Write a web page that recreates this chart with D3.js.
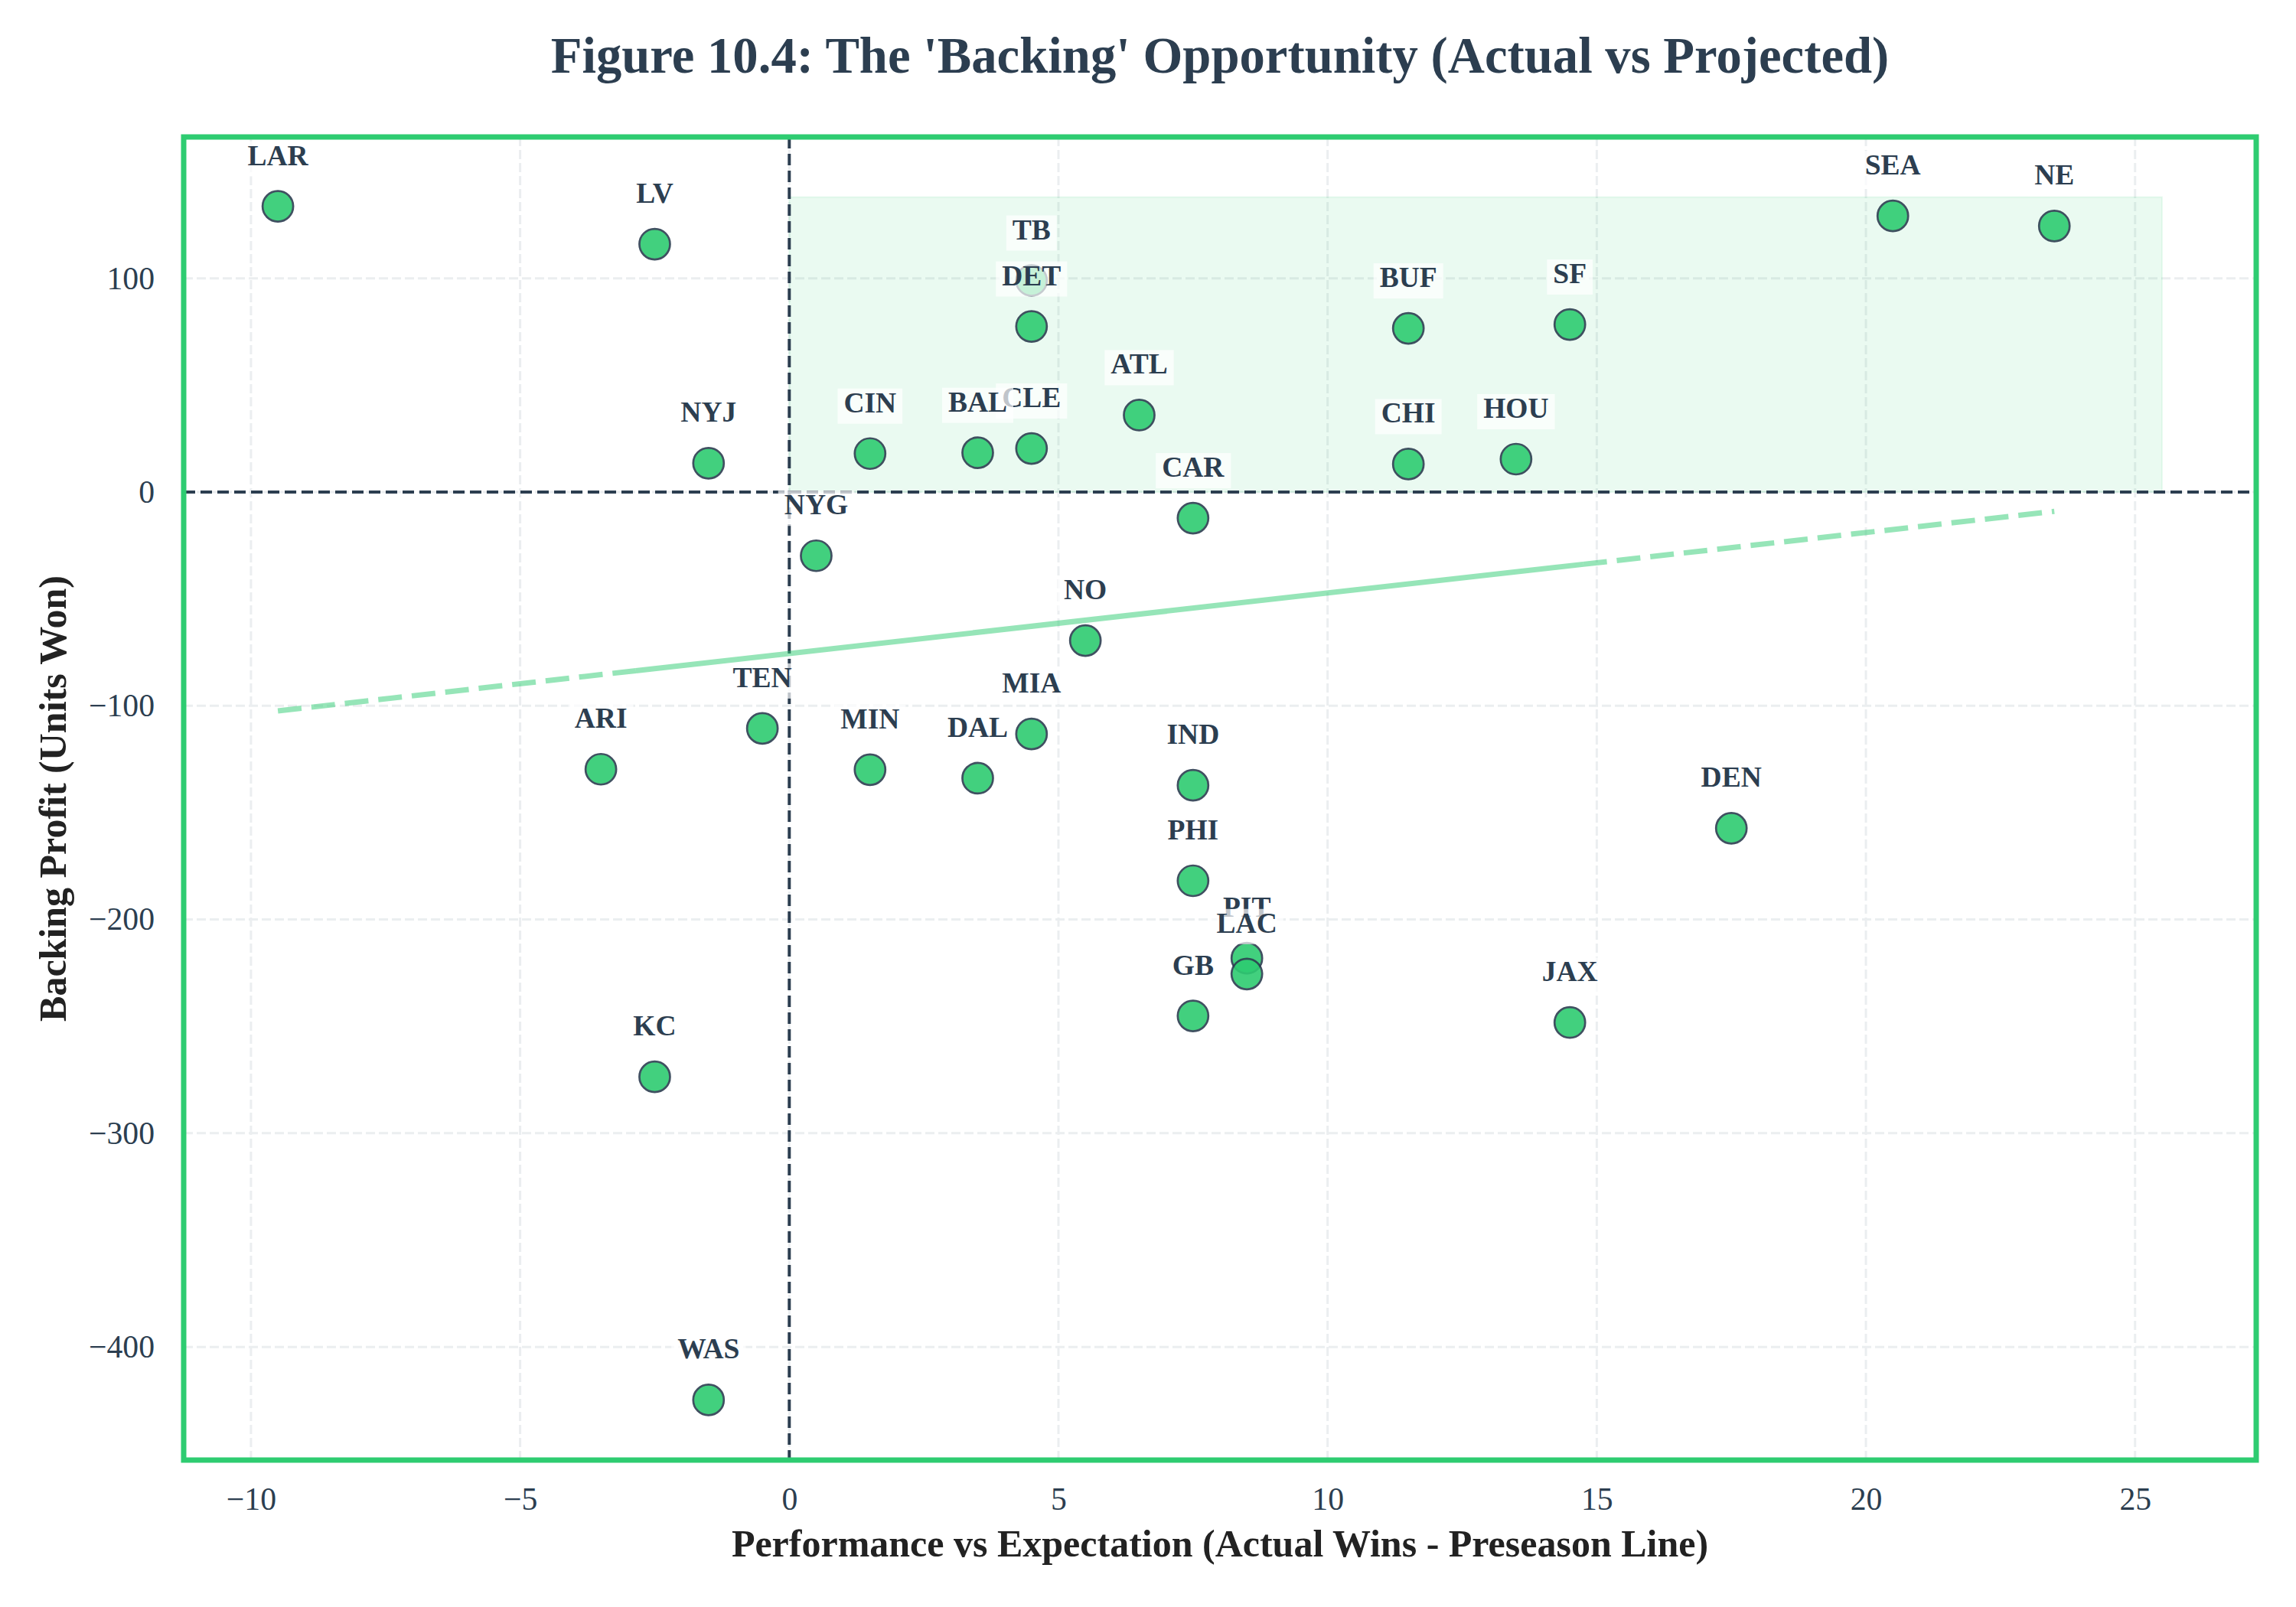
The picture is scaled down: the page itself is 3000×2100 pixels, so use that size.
<!DOCTYPE html>
<html>
<head>
<meta charset="utf-8">
<script src="https://cdn.jsdelivr.net/npm/d3@7"></script>
<style>
  body { margin: 0; background: #fff; }
  svg { display: block; }
  text { font-family: 'Liberation Serif', 'Times New Roman', serif; }
</style>
</head>
<body>
<div id="container"></div>
<script>
// teams ordered by backing profit (high to low), as drawn
const teams = ['LAR', 'SEA', 'NE', 'LV', 'TB', 'SF', 'DET', 'BUF', 'ATL', 'CLE', 'BAL', 'CIN',
  'HOU', 'NYJ', 'CHI', 'CAR', 'NYG', 'NO', 'TEN', 'MIA', 'ARI', 'MIN', 'DAL', 'IND', 'DEN',
  'PHI', 'PIT', 'LAC', 'GB', 'JAX', 'KC', 'WAS'];
const winsVsLine = [-9.5, 20.5, 23.5, -2.5, 4.5, 14.5, 4.5, 11.5, 6.5, 4.5, 3.5, 1.5,
  13.5, -1.5, 11.5, 7.5, 0.5, 5.5, -0.5, 4.5, -3.5, 1.5, 3.5, 7.5, 17.5,
  7.5, 8.5, 8.5, 7.5, 14.5, -2.5, -1.5];
const backingProfit = [133.7, 129.2, 124.5, 116.0, 99.0, 78.4, 77.5, 76.6, 36.0, 20.4, 18.4, 18.0,
  15.4, 13.5, 13.1, -12.2, -29.8, -69.5, -110.6, -113.2, -129.7, -129.9, -133.9, -137.2, -157.3,
  -181.9, -218.1, -225.5, -245.1, -248.2, -273.6, -424.8];

// shaded "backing" zone and the stretch where the fit line shows solid
const zoneX = [0, 25.5];
const zoneY = [0, 138];
const trendSolid = [-2.85, 14.75];

const xTicks = [-10, -5, 0, 5, 10, 15, 20, 25];
const yTicks = [-400, -300, -200, -100, 0, 100];

const width = 3000;
const height = 2100;
const margin = { left: 240, right: 52, top: 179, bottom: 192 };
const dark = '#2c3e50';
const green = '#2ecc71';

const data = teams.map((t, i) => ({ team: t, x: winsVsLine[i], y: backingProfit[i] }));

const svg = d3.select('#container')
  .append('svg')
  .attr('width', width)
  .attr('height', height);

svg.append('rect').attr('width', width).attr('height', height).attr('fill', '#fff');

// Scales (5% padding like matplotlib autoscale)
const xMin = d3.min(winsVsLine), xMax = zoneX[1];
const yMin = d3.min(backingProfit), yMax = zoneY[1];
const xPad = (xMax - xMin) * 0.05, yPad = (yMax - yMin) * 0.05;

const x = d3.scaleLinear()
  .domain([xMin - xPad, xMax + xPad])
  .range([margin.left, width - margin.right]);
const y = d3.scaleLinear()
  .domain([yMin - yPad, yMax + yPad])
  .range([height - margin.bottom, margin.top]);

const minus = v => (v < 0 ? '\u2212' + Math.abs(v) : String(v));

// Grid
const grid = svg.append('g');
grid.selectAll('line.gx')
  .data(xTicks)
  .enter()
  .append('line')
  .attr('x1', d => x(d)).attr('x2', d => x(d))
  .attr('y1', margin.top).attr('y2', height - margin.bottom)
  .attr('stroke', '#ebeef0').attr('stroke-width', 3)
  .attr('stroke-dasharray', '12,5');
grid.selectAll('line.gy')
  .data(yTicks)
  .enter()
  .append('line')
  .attr('y1', d => y(d)).attr('y2', d => y(d))
  .attr('x1', margin.left).attr('x2', width - margin.right)
  .attr('stroke', '#ebeef0').attr('stroke-width', 3)
  .attr('stroke-dasharray', '12,5');

// Backing zone
svg.append('rect')
  .attr('x', x(zoneX[0]))
  .attr('y', y(zoneY[1]))
  .attr('width', x(zoneX[1]) - x(zoneX[0]))
  .attr('height', y(zoneY[0]) - y(zoneY[1]))
  .attr('fill', green).attr('fill-opacity', 0.1)
  .attr('stroke', green).attr('stroke-opacity', 0.1).attr('stroke-width', 2);

// Zero lines
svg.append('line')
  .attr('x1', margin.left).attr('x2', width - margin.right)
  .attr('y1', y(0)).attr('y2', y(0))
  .attr('stroke', dark).attr('stroke-width', 4).attr('stroke-dasharray', '15,7');
svg.append('line')
  .attr('x1', x(0)).attr('x2', x(0))
  .attr('y1', margin.top).attr('y2', height - margin.bottom)
  .attr('stroke', dark).attr('stroke-width', 4).attr('stroke-dasharray', '15,7');

// Trend line (least squares fit)
const mx = d3.mean(winsVsLine), my = d3.mean(backingProfit);
const slope = d3.sum(data, d => (d.x - mx) * (d.y - my)) / d3.sum(data, d => (d.x - mx) ** 2);
const icpt = my - slope * mx;
const fit = v => icpt + slope * v;
const xLo = d3.min(winsVsLine), xHi = d3.max(winsVsLine);
const trendParts = [
  { a: xLo, b: trendSolid[0], dash: '31,13' },
  { a: trendSolid[0], b: trendSolid[1], dash: null },
  { a: trendSolid[1], b: xHi, dash: '31,13' }
];
svg.selectAll('line.trend')
  .data(trendParts)
  .enter()
  .append('line')
  .attr('x1', d => x(d.a)).attr('y1', d => y(fit(d.a)))
  .attr('x2', d => x(d.b)).attr('y2', d => y(fit(d.b)))
  .attr('stroke', green).attr('stroke-opacity', 0.5)
  .attr('stroke-width', 7)
  .attr('stroke-dasharray', d => d.dash);

// Points
svg.selectAll('circle.pt')
  .data(data)
  .enter()
  .append('circle')
  .attr('cx', d => x(d.x))
  .attr('cy', d => y(d.y))
  .attr('r', 20)
  .attr('fill', green)
  .attr('stroke', dark)
  .attr('stroke-width', 2.7)
  .attr('opacity', 0.9);

// Team labels with light boxes
const labels = svg.selectAll('g.lbl')
  .data(data)
  .enter()
  .append('g')
  .attr('transform', d => `translate(${x(d.x)},${y(d.y) - 54})`);
labels.append('rect').attr('class', 'box');
labels.append('text')
  .attr('text-anchor', 'middle')
  .attr('font-size', 37.5)
  .attr('font-weight', 'bold')
  .attr('fill', dark)
  .text(d => d.team);
labels.each(function () {
  const g = d3.select(this);
  const bb = g.select('text').node().getBBox();
  g.select('rect')
    .attr('x', bb.x - 8).attr('width', bb.width + 16)
    .attr('y', -31).attr('height', 46)
    .attr('fill', '#fff').attr('fill-opacity', 0.7);
});

// Axes
const xAxis = svg.append('g')
  .attr('transform', `translate(0,${height - margin.bottom})`)
  .call(d3.axisBottom(x).tickValues(xTicks).tickSize(0).tickFormat(minus));
xAxis.select('.domain').remove();
xAxis.selectAll('text')
  .attr('dy', null).attr('y', 65)
  .attr('font-size', 41.7).attr('fill', dark)
  .style('font-family', "'Liberation Serif', serif");

const yAxis = svg.append('g')
  .attr('transform', `translate(${margin.left},0)`)
  .call(d3.axisLeft(y).tickValues(yTicks).tickSize(0).tickFormat(minus));
yAxis.select('.domain').remove();
yAxis.selectAll('text')
  .attr('x', -38)
  .attr('font-size', 41.7).attr('fill', dark)
  .style('font-family', "'Liberation Serif', serif");

// Frame
svg.append('rect')
  .attr('x', margin.left).attr('y', margin.top)
  .attr('width', width - margin.left - margin.right)
  .attr('height', height - margin.top - margin.bottom)
  .attr('fill', 'none').attr('stroke', green).attr('stroke-width', 7);

// Titles
const cx = (margin.left + width - margin.right) / 2;
svg.append('text')
  .attr('x', cx).attr('y', 95)
  .attr('text-anchor', 'middle')
  .attr('font-size', 66.7).attr('font-weight', 'bold').attr('fill', dark)
  .text("Figure 10.4: The 'Backing' Opportunity (Actual vs Projected)");

svg.append('text')
  .attr('x', cx).attr('y', 2034)
  .attr('text-anchor', 'middle')
  .attr('font-size', 50).attr('font-weight', 'bold').attr('fill', '#222')
  .text('Performance vs Expectation (Actual Wins - Preseason Line)');

svg.append('text')
  .attr('transform', `translate(86,${(margin.top + height - margin.bottom) / 2}) rotate(-90)`)
  .attr('text-anchor', 'middle')
  .attr('font-size', 50).attr('font-weight', 'bold').attr('fill', '#222')
  .text('Backing Profit (Units Won)');
</script>
</body>
</html>
